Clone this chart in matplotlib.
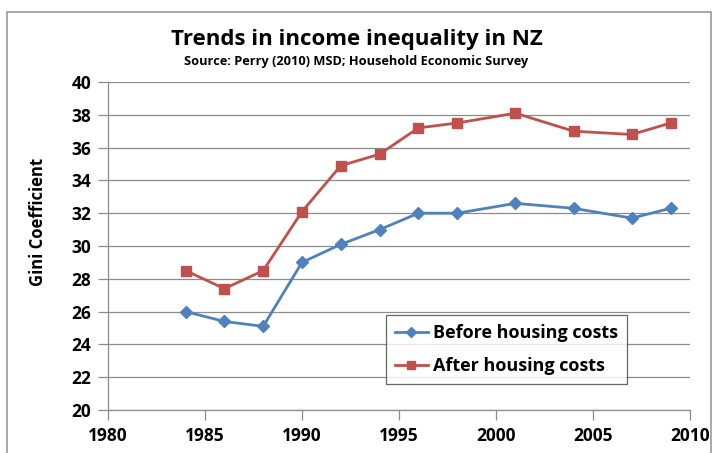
import matplotlib
matplotlib.use("Agg")
import matplotlib.pyplot as plt
from matplotlib.patches import Rectangle

# data
years = [1984, 1986, 1988, 1990, 1992, 1994, 1996, 1998, 2001, 2004, 2007, 2009]
before_hc = [26.0, 25.4, 25.1, 29.0, 30.1, 31.0, 32.0, 32.0, 32.6, 32.3, 31.7, 32.3]
after_hc = [28.5, 27.4, 28.5, 32.1, 34.9, 35.6, 37.2, 37.5, 38.1, 37.0, 36.8, 37.5]
x_ticks = [1980, 1985, 1990, 1995, 2000, 2005, 2010]
y_ticks = list(range(20, 41, 2))

BLUE = "#4F81BD"
RED = "#C0504D"
GRID = "#8C8C8C"

plt.rcParams["font.family"] = ["Open Sans", "DejaVu Sans"]
plt.rcParams["font.weight"] = "bold"

W, H = 713, 453
fig = plt.figure(figsize=(W / 100, H / 100), dpi=100)
ax = fig.add_axes([108 / W, 1 - 410 / H, (690 - 108) / W, (410 - 82) / H])

# outer chart border
fig.patches.append(Rectangle((7 / W, -0.01), (711 - 7) / W, 1 - 12 / H + 0.01,
                             transform=fig.transFigure, fill=False,
                             edgecolor="#9A9A9A", lw=1.2))

ax.plot(years, before_hc, color=BLUE, marker="D", ms=6, lw=2,
        label="Before housing costs", zorder=3)
ax.plot(years, after_hc, color=RED, marker="s", ms=7.5, lw=2,
        label="After housing costs", zorder=3)

ax.set_xlim(1980, 2010)
ax.set_ylim(20, 40)
ax.set_xticks(x_ticks)
ax.set_yticks(y_ticks)
ax.yaxis.grid(True, color=GRID, lw=0.9)
ax.set_axisbelow(True)
for s in ("top", "right"):
    ax.spines[s].set_visible(False)
for s in ("left", "bottom"):
    ax.spines[s].set_color(GRID)
    ax.spines[s].set_linewidth(0.9)
ax.tick_params(axis="both", direction="out", length=7, color=GRID,
               width=0.9, labelsize=12.5, pad=5)
for lab in ax.get_xticklabels() + ax.get_yticklabels():
    lab.set_fontweight("bold")

ax.set_ylabel("Gini Coefficient", fontsize=12, fontweight="bold")
ax.yaxis.set_label_coords(-0.105, 0.573)

fig.text(0.5, 1 - 40 / H, "Trends in income inequality in NZ",
         ha="center", va="center", fontsize=16, fontweight="bold")
fig.text(0.5, 1 - 62 / H, "Source: Perry (2010) MSD; Household Economic Survey",
         ha="center", va="center", fontsize=9.2, fontweight="bold")

leg = ax.legend(loc="upper left", bbox_to_anchor=((386 - 108) / (690 - 108),
                (410 - 315) / (410 - 82)),
                fontsize=13, frameon=True, fancybox=False, borderpad=0.5,
                borderaxespad=0, handlelength=1.8, handletextpad=0.3,
                labelspacing=0.85, markerscale=0.8)
leg.get_frame().set_edgecolor("#404040")
leg.get_frame().set_linewidth(0.9)
for t in leg.get_texts():
    t.set_fontweight("bold")

fig.savefig("out.png", dpi=100)
